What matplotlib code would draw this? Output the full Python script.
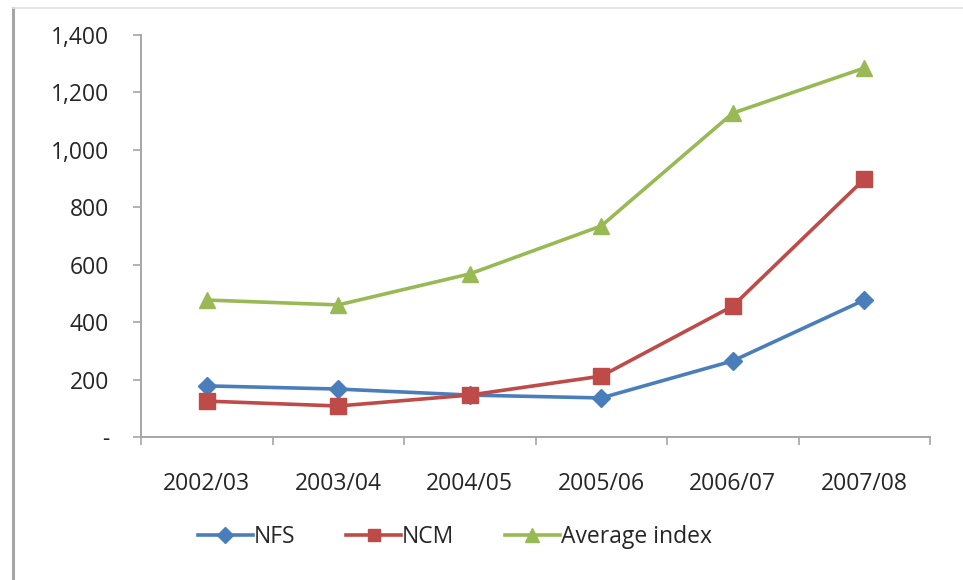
import matplotlib
matplotlib.use("Agg")
import matplotlib.pyplot as plt
from matplotlib.lines import Line2D
from matplotlib.ticker import FixedLocator, FuncFormatter

plt.rcParams['font.family'] = ['Open Sans', 'DejaVu Sans']

categories = ["2002/03", "2003/04", "2004/05", "2005/06", "2006/07", "2007/08"]
nfs = [178, 167, 146, 136, 265, 477]
ncm = [125, 108, 146, 212, 456, 898]
average_index = [477, 460, 568, 735, 1128, 1285]
y_ticks = [0, 200, 400, 600, 800, 1000, 1200, 1400]

W, H = 963, 580
FS = 16.5
fig = plt.figure(figsize=(W / 100, H / 100), dpi=100)
fig.patch.set_facecolor("white")

# chart-area border (left and top edges)
fig.add_artist(Line2D([12.5 / W, 12.5 / W], [0, 1 - 8 / H], color="#a6a6a6", lw=2.2))
fig.add_artist(Line2D([12.5 / W, 1], [1 - 8 / H, 1 - 8 / H], color="#e0e0e0", lw=1.2))

ax = fig.add_axes([141 / W, (H - 437) / H, (930 - 141) / W, (437 - 35) / H])
x = list(range(len(categories)))

ax.plot(x, nfs, color="#4A7EBB", lw=2.6, marker="D", ms=9, label="NFS")
ax.plot(x, ncm, color="#BE4B48", lw=2.6, marker="s", ms=11, label="NCM")
ax.plot(x, average_index, color="#98B954", lw=2.6, marker="^", ms=12, label="Average index")

ax.set_xlim(-0.5, len(categories) - 0.5)
ax.set_ylim(0, 1400)

ax.yaxis.set_major_locator(FixedLocator(y_ticks))
ax.yaxis.set_major_formatter(FuncFormatter(lambda v, p: "-" if v == 0 else f"{int(v):,}"))

ax.set_xticks(x)
ax.set_xticklabels(categories)
ax.tick_params(axis="x", which="major", length=0, pad=25, labelsize=FS, labelcolor="#262626")
ax.set_xticks([i - 0.5 for i in range(len(categories) + 1)], minor=True)
ax.tick_params(axis="x", which="minor", length=6, width=1.2, color="#a6a6a6", direction="out")
ax.tick_params(axis="y", length=6, width=1.2, color="#a6a6a6", labelsize=FS,
               labelcolor="#262626", pad=17)

for side in ("top", "right"):
    ax.spines[side].set_visible(False)
for side in ("left", "bottom"):
    ax.spines[side].set_color("#a6a6a6")
    ax.spines[side].set_linewidth(1.4)

leg = fig.legend(loc="center", bbox_to_anchor=(455 / W, 1 - 537 / H), ncol=3,
                 frameon=False, fontsize=FS, handlelength=2.4, handletextpad=0.05,
                 columnspacing=2.2, markerscale=0.85, labelcolor="#262626")

fig.savefig("out.png", dpi=100, facecolor="white")
